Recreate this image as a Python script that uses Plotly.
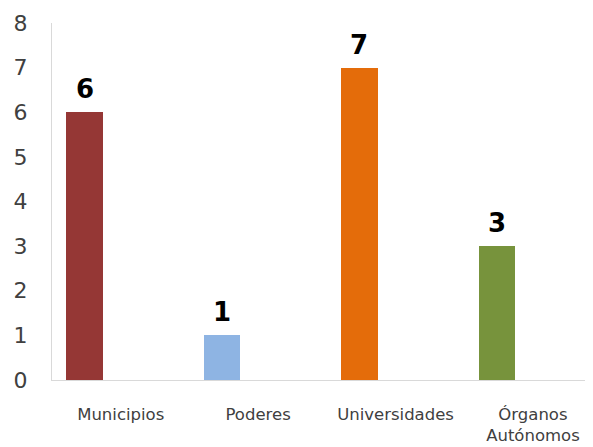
import plotly.graph_objects as go

categories = ['Municipios', 'Poderes', 'Universidades', 'Órganos<br>Autónomos']
values = [6, 1, 7, 3]
colors = ['#953735', '#8EB4E3', '#E46C0A', '#77933C']
y_ticks = [0, 1, 2, 3, 4, 5, 6, 7, 8]

BAR_WIDTH = 0.265
BAR_OFFSET = -0.395

fig = go.Figure()

# single series, drawn at the left slot of each category (as in the source)
fig.add_trace(go.Bar(
    x=categories,
    y=values,
    marker=dict(color=colors, line=dict(width=0)),
    width=BAR_WIDTH,
    offset=BAR_OFFSET,
    showlegend=False
))

# value labels over each bar
for i, v in enumerate(values):
    fig.add_annotation(
        x=i + BAR_OFFSET + BAR_WIDTH / 2,
        y=v,
        text=f'<b>{v}</b>',
        showarrow=False,
        yanchor='bottom',
        yshift=6,
        font=dict(family='DejaVu Sans', size=26, color='#000000')
    )

# margins account for the 8px default page margin of the html body
fig.update_layout(
    width=593,
    height=447,
    paper_bgcolor='white',
    plot_bgcolor='white',
    font=dict(family='DejaVu Sans', color='#404040'),
    margin=dict(l=44, r=8, t=15, b=75),
    bargap=0,
    xaxis=dict(
        range=[-0.5, 3.437],
        showline=True,
        linecolor='#D9D9D9',
        linewidth=1,
        showgrid=False,
        ticks='',
        tickfont=dict(size=16.5, color='#404040'),
        ticklabelstandoff=19,
        automargin=False
    ),
    yaxis=dict(
        range=[0, 8],
        tickvals=y_ticks,
        showline=True,
        linecolor='#D9D9D9',
        linewidth=1,
        showgrid=False,
        zeroline=False,
        ticks='',
        tickfont=dict(size=22, color='#404040'),
        ticklabelstandoff=19,
        automargin=False
    )
)

fig.write_html("out.html")
